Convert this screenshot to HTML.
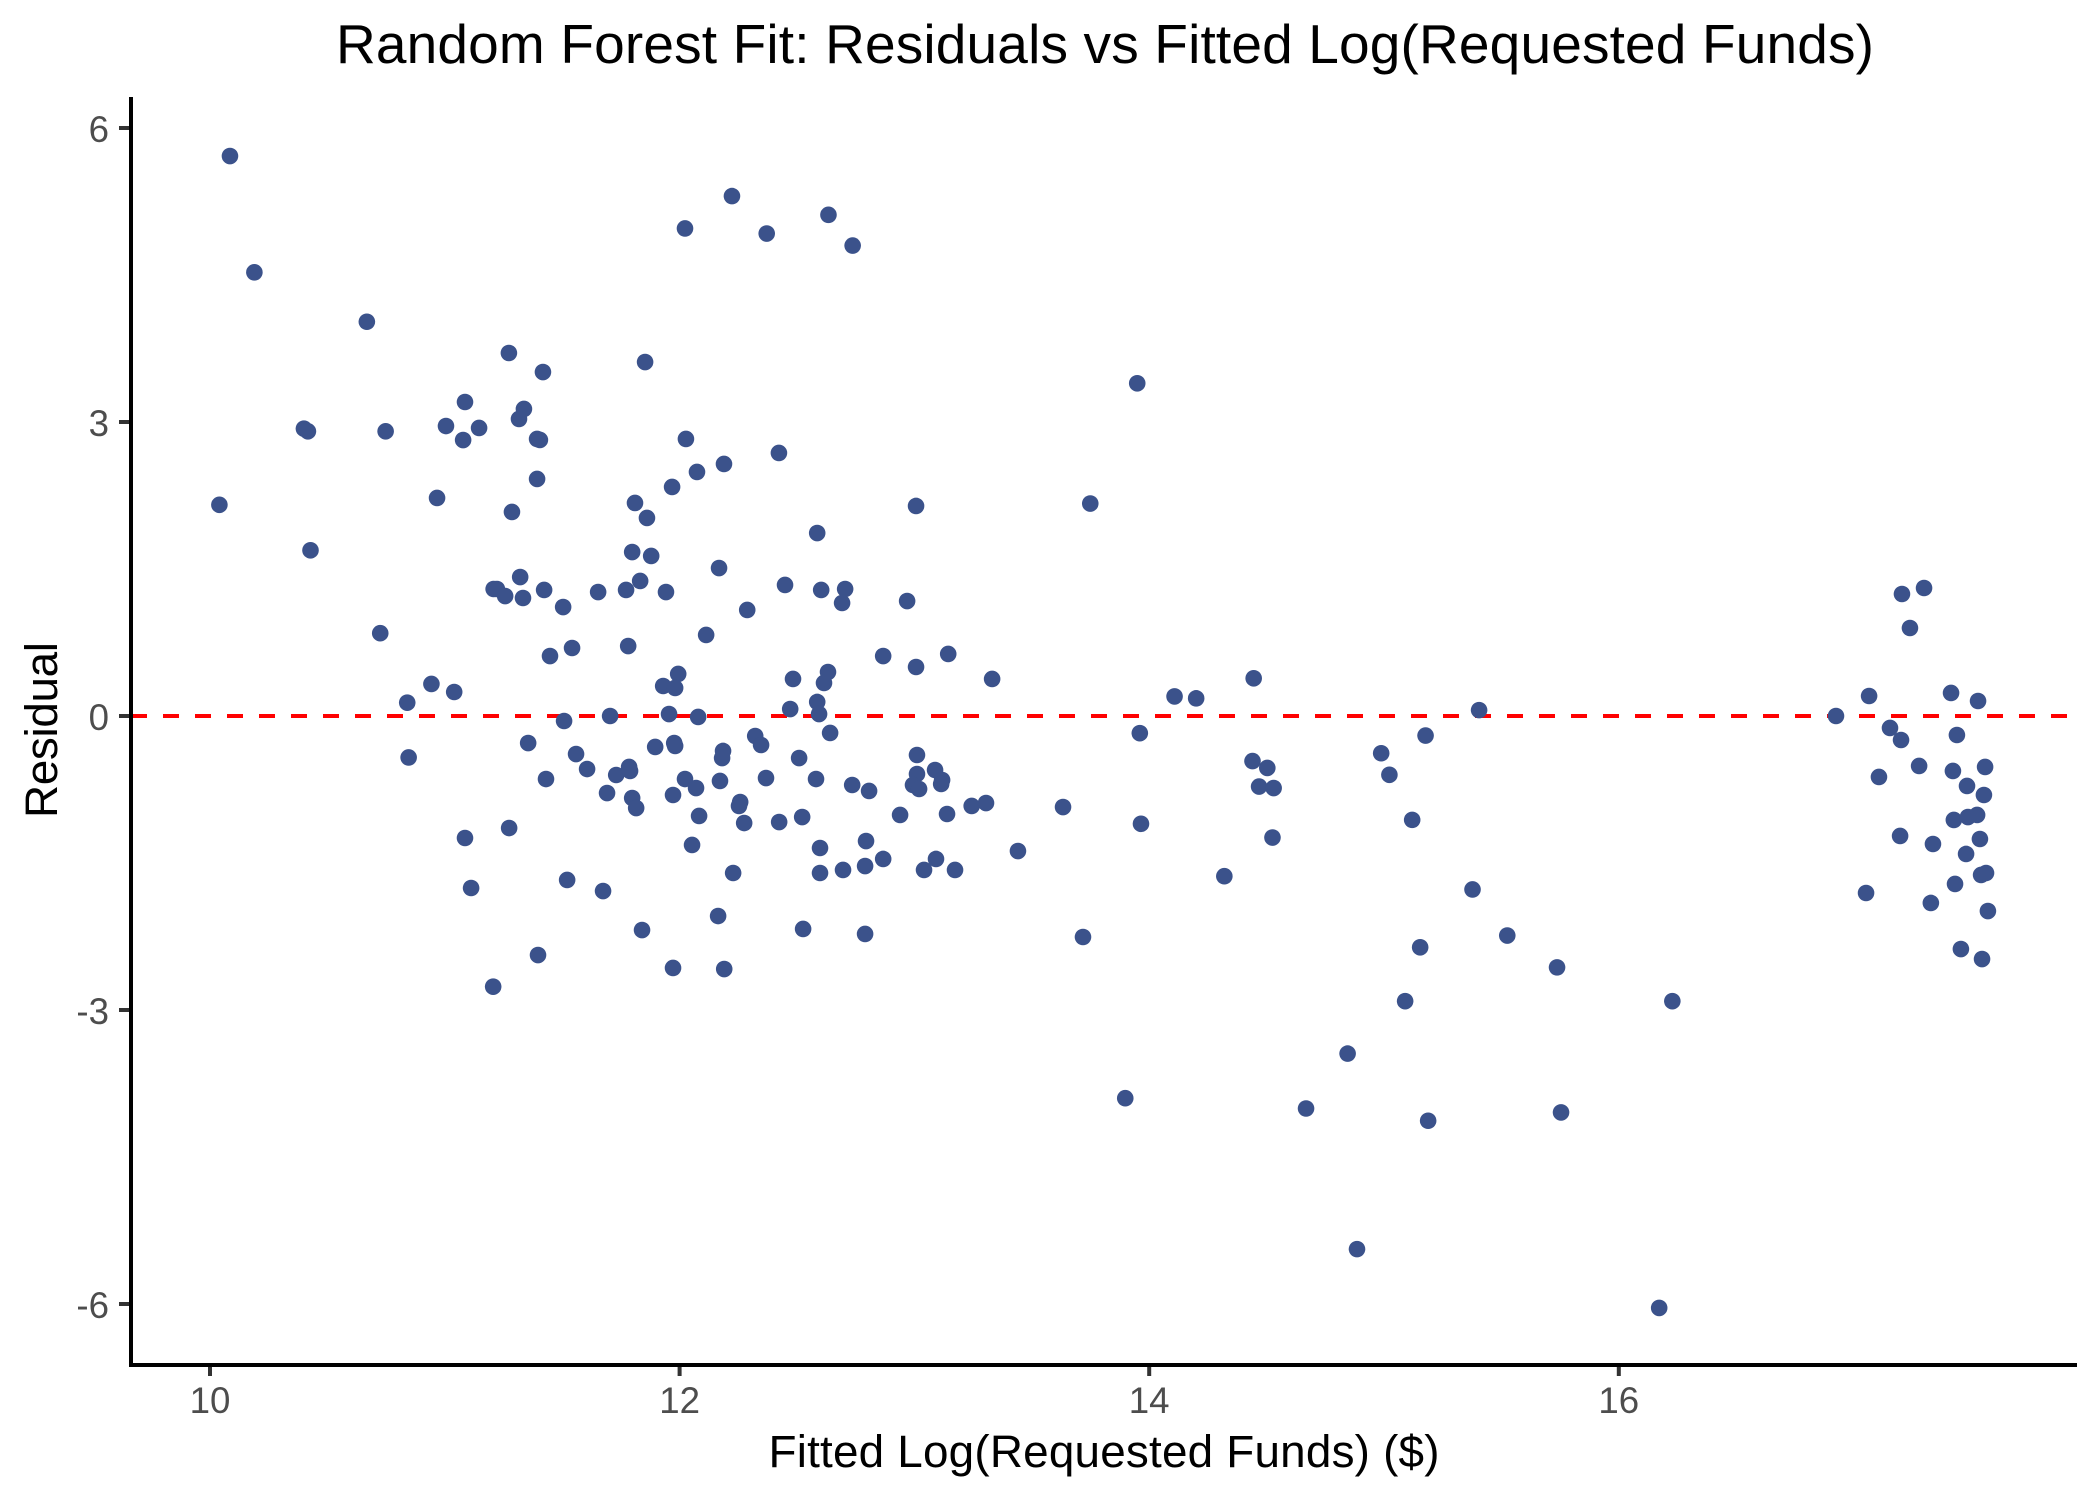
<!DOCTYPE html>
<html lang="en">
<head>
<meta charset="utf-8">
<title>Random Forest Fit: Residuals vs Fitted Log(Requested Funds)</title>
<style>
html,body{margin:0;padding:0;background:#fff;}
svg{display:block;font-family:"Liberation Sans",Arial,sans-serif;}
</style>
</head>
<body>
<svg id="chart" xmlns="http://www.w3.org/2000/svg" width="2100" height="1499" viewBox="0 0 2100 1499">
  <rect x="0" y="0" width="2100" height="1499" fill="#ffffff"></rect>
  <text x="1105" y="63" font-size="55" text-anchor="middle" textLength="1538" lengthAdjust="spacing" fill="#000000">Random Forest Fit: Residuals vs Fitted Log(Requested Funds)</text>
  <text x="1104" y="1467" font-size="45.83" text-anchor="middle" textLength="671" lengthAdjust="spacing" fill="#000000">Fitted Log(Requested Funds) ($)</text>
  <text transform="translate(57 730) rotate(-90)" font-size="45.83" text-anchor="middle" textLength="176" lengthAdjust="spacing" fill="#000000">Residual</text>
  <g id="reference-layer"></g>
  <g id="points-layer"></g>
  <g id="ticks-layer"></g>
  <rect x="129" y="97" width="4" height="1270" fill="#000000"></rect>
  <rect x="129" y="1363" width="1948" height="4" fill="#000000"></rect>
</svg>
<script>
const xTicks = [10, 12, 14, 16];
const yTicks = [6, 3, 0, -3, -6];
const referenceResidual = 0;

const fittedValues = [
11.273,11.418,11.853,11.086,11.337,11.316,11.005,11.146,11.078,11.393,11.405,11.393,10.967,11.286,12.027,12.074,12.189,12.423,11.968,11.81,11.861,13.007,
12.586,11.798,11.879,12.168,11.321,11.208,11.222,11.257,11.333,11.423,11.504,11.653,11.772,11.832,11.942,12.288,12.449,12.603,12.705,12.692,12.969,12.113,
11.542,11.448,11.781,11.04,11.994,11.93,11.981,12.483,12.632,12.615,12.867,13.007,13.144,12.586,12.471,12.594,11.704,11.955,12.079,11.508,12.641,12.322,
12.347,11.355,11.559,11.606,11.896,11.977,11.981,12.185,12.181,12.509,13.011,13.088,13.011,13.118,13.114,12.994,13.02,11.431,11.73,11.785,11.789,11.691,
11.798,11.815,12.023,12.07,11.972,12.172,12.368,12.581,12.735,12.807,12.258,12.253,12.083,12.275,12.424,12.522,12.939,13.139,11.274,11.086,12.053,12.598,
12.794,12.867,13.092,13.041,13.173,12.598,12.696,12.79,12.228,11.521,11.112,11.674,12.164,11.84,12.526,12.79,11.397,11.972,12.19,11.206,
13.633,13.441,13.244,13.305,13.331,13.718,
17.206,17.3,17.24,17.066,17.415,17.53,16.925,17.155,17.202,17.44,17.279,17.108,17.423,17.56,17.483,17.555,17.427,17.487,17.526,17.198,17.338,17.538,17.479,
17.543,17.564,17.432,17.053,17.329,17.572,17.457,17.547,
10.085,10.189,10.668,10.04,10.4,10.417,10.748,10.428,10.725,10.943,10.84,10.846,
12.023,12.223,12.371,12.634,12.737,
13.749,13.949,13.965,13.96,13.898,14.108,14.2,14.445,14.44,14.503,14.468,14.53,14.525,14.32,14.668,14.845,14.885,14.988,15.023,15.177,15.12,15.154,
15.09,15.188,15.405,15.377,15.525,15.737,15.754,16.172,16.228
];

const residualValues = [
3.704,3.51,3.612,3.204,3.133,3.031,2.959,2.939,2.816,2.827,2.817,2.419,2.225,2.082,2.827,2.49,2.572,2.684,2.337,2.174,2.021,2.143,
1.867,1.673,1.633,1.51,1.418,1.296,1.296,1.224,1.204,1.286,1.112,1.265,1.286,1.378,1.265,1.082,1.337,1.286,1.296,1.153,1.173,0.827,
0.694,0.612,0.714,0.245,0.429,0.306,0.286,0.378,0.449,0.337,0.612,0.5,0.633,0.143,0.071,0.02,0,0.02,-0.01,-0.051,-0.173,-0.204,
-0.296,-0.276,-0.388,-0.541,-0.316,-0.276,-0.306,-0.357,-0.429,-0.429,-0.398,-0.551,-0.592,-0.653,-0.694,-0.704,-0.745,-0.643,-0.602,-0.52,-0.561,-0.786,
-0.837,-0.939,-0.643,-0.735,-0.806,-0.663,-0.633,-0.643,-0.704,-0.765,-0.878,-0.918,-1.02,-1.092,-1.082,-1.031,-1.01,-1,-1.143,-1.245,-1.316,-1.347,
-1.276,-1.459,-1.459,-1.571,-1.571,-1.602,-1.571,-1.531,-1.602,-1.673,-1.755,-1.786,-2.041,-2.184,-2.173,-2.224,-2.439,-2.571,-2.582,-2.762,
-0.929,-1.378,-0.918,-0.888,0.378,-2.255,
1.245,1.306,0.898,0.204,0.235,0.153,0,-0.122,-0.245,-0.194,-0.51,-0.622,-0.561,-0.52,-0.714,-0.806,-1.061,-1.031,-1.01,-1.224,-1.306,-1.255,-1.408,
-1.622,-1.602,-1.714,-1.806,-1.908,-1.99,-2.378,-2.48,
5.714,4.527,4.023,2.155,2.932,2.905,2.905,1.691,0.845,0.327,0.136,-0.423,
4.975,5.305,4.923,5.114,4.8,
2.168,3.395,-1.1,-0.175,-3.9,0.2,0.18,0.385,-0.46,-0.53,-0.72,-0.735,-1.24,-1.635,-4.005,-3.445,-5.44,-0.38,-0.6,-0.2,-1.06,-2.36,
-2.91,-4.13,0.06,-1.77,-2.24,-2.565,-4.045,-6.04,-2.91
];

const SVG_NS = 'http://www.w3.org/2000/svg';
function xScale(v) { return 210 + (v - 10) * 234.8; }
function yScale(v) { return 716 - v * 98; }

const referenceLayer = document.getElementById('reference-layer');
const pointsLayer = document.getElementById('points-layer');
const ticksLayer = document.getElementById('ticks-layer');

const zeroLine = document.createElementNS(SVG_NS, 'line');


zeroLine.setAttribute('x1', 131);
zeroLine.setAttribute('x2', 2077);
zeroLine.setAttribute('y1', yScale(referenceResidual));
zeroLine.setAttribute('y2', yScale(referenceResidual));
zeroLine.setAttribute('stroke', '#ff0000');
zeroLine.setAttribute('stroke-width', 4);
zeroLine.setAttribute('stroke-dasharray', '16 16');
referenceLayer.appendChild(zeroLine);

fittedValues.forEach(function (fitted, i) {
  const dot = document.createElementNS(SVG_NS, 'circle');
  
  
  dot.setAttribute('cx', xScale(fitted));
  dot.setAttribute('cy', yScale(residualValues[i]));
  dot.setAttribute('r', 8.3);
  dot.setAttribute('fill', '#3b528b');
  pointsLayer.appendChild(dot);
});

xTicks.forEach(function (value) {
  const mark = document.createElementNS(SVG_NS, 'rect');
  
  
  mark.setAttribute('x', xScale(value) - 2);
  mark.setAttribute('y', 1367);
  mark.setAttribute('width', 4);
  mark.setAttribute('height', 9);
  mark.setAttribute('fill', '#333333');
  ticksLayer.appendChild(mark);
  const label = document.createElementNS(SVG_NS, 'text');
  
  
  label.setAttribute('x', xScale(value));
  label.setAttribute('y', 1413);
  label.setAttribute('font-size', 36.67);
  label.setAttribute('text-anchor', 'middle');
  label.setAttribute('fill', '#4d4d4d');
  label.textContent = String(value);
  ticksLayer.appendChild(label);
});

yTicks.forEach(function (value) {
  const mark = document.createElementNS(SVG_NS, 'rect');
  
  
  mark.setAttribute('x', 119);
  mark.setAttribute('y', yScale(value) - 2);
  mark.setAttribute('width', 10);
  mark.setAttribute('height', 4);
  mark.setAttribute('fill', '#333333');
  ticksLayer.appendChild(mark);
  const label = document.createElementNS(SVG_NS, 'text');
  
  
  label.setAttribute('x', 109);
  label.setAttribute('y', yScale(value) + 14);
  label.setAttribute('font-size', 36.67);
  label.setAttribute('text-anchor', 'end');
  label.setAttribute('fill', '#4d4d4d');
  label.textContent = String(value);
  ticksLayer.appendChild(label);
});
</script>
</body>
</html>
